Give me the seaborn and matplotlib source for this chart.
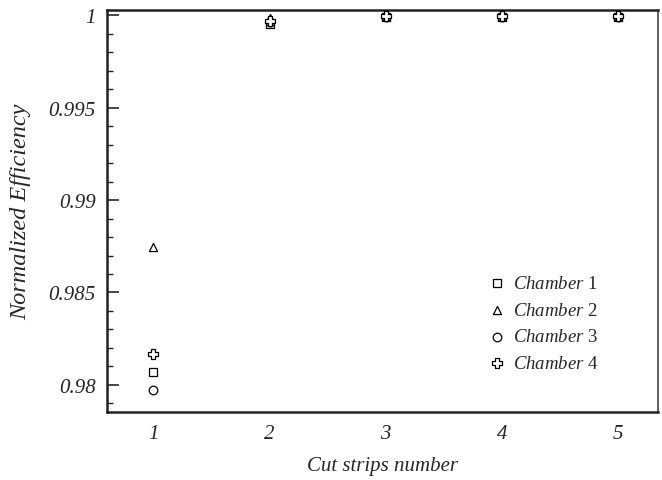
import numpy as np
import pandas as pd
import seaborn as sns
import matplotlib
matplotlib.use("Agg")
import matplotlib.pyplot as plt
from matplotlib.ticker import MultipleLocator

# Normalized efficiency per chamber versus number of cut strips
cut_strips = [1, 2, 3, 4, 5]
chamber1 = [0.98067, 0.99955, 0.99993, 0.99993, 0.99993]
chamber2 = [0.98747, 0.99985, 0.99997, 0.99997, 0.99997]
chamber3 = [0.97973, 0.99962, 0.99990, 0.99990, 0.99990]
chamber4 = [0.98166, 0.99970, 0.99995, 0.99995, 0.99995]
chamber_names = ["1", "2", "3", "4"]
y_ticks = [0.98, 0.985, 0.99, 0.995, 1.0]
y_tick_labels = ["0.98", "0.985", "0.99", "0.995", "1"]
x_tick_labels = ["1", "2", "3", "4", "5"]

sns.set_theme(style="ticks")
plt.rcParams["font.family"] = ["Liberation Serif", "DejaVu Serif"]
plt.rcParams["mathtext.fontset"] = "custom"
plt.rcParams["mathtext.it"] = "Liberation Serif:italic"
plt.rcParams["mathtext.rm"] = "Liberation Serif"

frames = []
for name, vals in zip(chamber_names, [chamber1, chamber2, chamber3, chamber4]):
    frames.append(pd.DataFrame({"strips": cut_strips, "eff": vals, "chamber": name}))
df = pd.concat(frames, ignore_index=True)

markers = {"1": "s", "2": "^", "3": "o", "4": "P"}
sizes = {"1": 34, "2": 34, "3": 38, "4": 44}

fig = plt.figure(figsize=(6.62, 4.81), dpi=100)
ax = fig.add_axes([0.1616, 0.1414, 0.8324, 0.8356])

for name in chamber_names:
    sub = df[df["chamber"] == name]
    sns.scatterplot(data=sub, x="strips", y="eff", ax=ax, marker=markers[name],
                    s=sizes[name], facecolor="white", edgecolor="black",
                    linewidth=0.9, label=r"$\it{Chamber}$ " + name, zorder=3)

ax.set_xlim(0.60, 5.345)
ax.set_ylim(0.97853, 1.00029)
ax.set_xticks(cut_strips)
ax.set_xticklabels(x_tick_labels, fontstyle="italic", fontsize=15)
ax.set_yticks(y_ticks)
ax.set_yticklabels(y_tick_labels, fontstyle="italic", fontsize=15)
ax.yaxis.set_minor_locator(MultipleLocator(0.001))
ax.tick_params(axis="y", which="major", direction="in", length=8.5, width=1.2, pad=8)
ax.tick_params(axis="y", which="minor", direction="in", length=4.3, width=1.0)
ax.tick_params(axis="x", which="major", direction="in", length=0, pad=9)
ax.tick_params(right=False, top=False)

for side in ["left", "top", "bottom"]:
    ax.spines[side].set_visible(True)
    ax.spines[side].set_color("#222222")
    ax.spines[side].set_linewidth(1.8)
ax.spines["right"].set_visible(True)
ax.spines["right"].set_color("#444444")
ax.spines["right"].set_linewidth(1.2)

ax.set_xlabel("Cut strips number", fontstyle="italic", fontsize=15, labelpad=9)
ax.set_ylabel("Normalized Efficiency", fontstyle="italic", fontsize=17.5)
ax.yaxis.set_label_coords(-0.137, 0.5)

leg = ax.legend(loc="lower right", frameon=False, fontsize=13.5, handletextpad=0.25,
                borderaxespad=0.0, labelspacing=0.52, handlelength=1.2,
                bbox_to_anchor=(0.905, 0.08))

fig.savefig("out.png", dpi=100)
